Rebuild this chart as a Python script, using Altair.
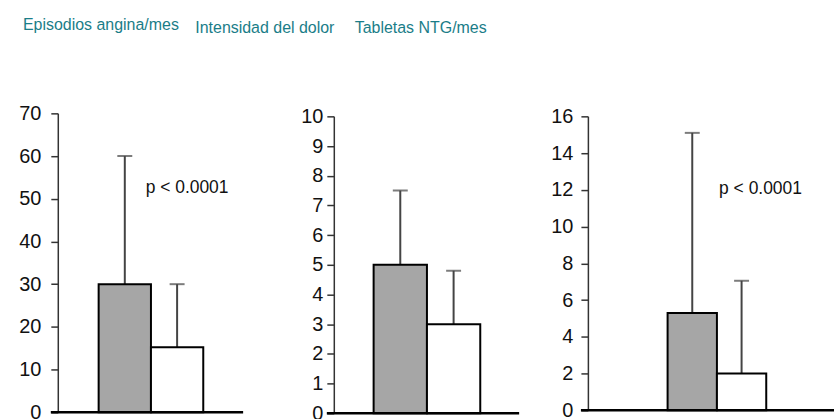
import altair as alt
import pandas as pd

groups = ["Basal", "Seguimiento"]
titles = ["Episodios angina/mes", "Intensidad del dolor", "Tabletas NTG/mes"]

mean_angina = [30, 15.2]
upper_angina = [60, 30]
mean_dolor = [5, 3]
upper_dolor = [7.5, 4.8]
mean_ntg = [5.3, 2]
upper_ntg = [15.1, 7.05]

ticks_angina = [0, 10, 20, 30, 40, 50, 60, 70]
ticks_dolor = [0, 1, 2, 3, 4, 5, 6, 7, 8, 9, 10]
ticks_ntg = [0, 2, 4, 6, 8, 10, 12, 14, 16]

p_label = "p < 0.0001"
p_y_angina = 51.3
p_y_ntg = 11.8

fills = ["#a6a6a6", "#ffffff"]
TITLE_COLOR = "#1a7d88"
TITLE_FONT = "Liberation Sans, Arial, sans-serif"
LABEL_FONT = "Liberation Sans, Arial, sans-serif"


def panel(title, means, uppers, ticks, width, height, yrange, po, align,
          rule_len, title_dx, label_pad, p_y=None, p_dx=0):
    df = pd.DataFrame({"grupo": groups, "media": means, "sup": uppers})
    xs = alt.Scale(domain=groups, paddingInner=0, paddingOuter=po, align=align)
    x = alt.X("grupo:N", sort=groups, scale=xs, axis=None)
    ys = alt.Scale(domain=[ticks[0], ticks[-1]], range=yrange, nice=False, zero=True)
    yaxis = alt.Axis(values=ticks, tickCount=40, format="d", grid=False, tickSize=7,
                     labelFontSize=20, labelFont=LABEL_FONT, labelColor="#111111",
                     labelOverlap=False, labelBound=False,
                     domainColor="#333333", tickColor="#333333",
                     domainWidth=1.5, tickWidth=1.5, labelPadding=label_pad,
                     title=None)
    base = alt.Chart(df)
    bars = base.mark_bar(stroke="black", strokeWidth=2).encode(
        x=x,
        y=alt.Y("media:Q", scale=ys, axis=yaxis),
        fill=alt.Color("grupo:N", scale=alt.Scale(domain=groups, range=fills), legend=None),
    )
    err = base.mark_rule(color="#444444", strokeWidth=2).encode(
        x=x, y="media:Q", y2="sup:Q"
    )
    cap = base.mark_tick(color="#444444", thickness=2, size=15).encode(
        x=x, y="sup:Q"
    )
    baseline = alt.Chart(pd.DataFrame({"cero": [0]})).mark_rule(
        color="black", strokeWidth=2.5
    ).encode(x=alt.value(-7), x2=alt.value(rule_len), y="cero:Q")
    layers = [err, cap, bars, baseline]
    if p_y is not None:
        txt = alt.Chart(pd.DataFrame({"g": [groups[1]], "py": [p_y], "t": [p_label]})).mark_text(
            align="center", baseline="alphabetic", fontSize=17.5, font=LABEL_FONT,
            color="#111111", dx=p_dx
        ).encode(x=alt.X("g:N", sort=groups, scale=xs, axis=None), y="py:Q", text="t:N")
        layers.append(txt)
    return alt.layer(*layers).properties(
        width=width, height=height,
        title=alt.TitleParams(text=title, anchor="start", frame="group", dx=title_dx,
                              offset=58, font=TITLE_FONT, fontSize=16,
                              fontWeight="normal", color=TITLE_COLOR,
                              baseline="alphabetic"),
    )


p1 = panel(titles[0], mean_angina, upper_angina, ticks_angina, 208, 300, [300, 0],
           0.981, 0.398, 186, -35, 10, p_y=p_y_angina, p_dx=10)
p2 = panel(titles[1], mean_dolor, upper_dolor, ticks_dolor, 186, 301, [301, 3],
           0.738, 0.506, 186, -139, 4)
p3 = panel(titles[2], mean_ntg, upper_ntg, ticks_ntg, 198, 298, [298, 3],
           1.0, 0.808, 247, -234, 8, p_y=p_y_ntg, p_dx=19)

chart = alt.hconcat(p1, p2, p3, spacing=69, bounds="flush").properties(
    padding={"left": 18, "top": 16, "right": 0, "bottom": 0}
).configure_view(stroke=None)

chart.save("out.html", embed_options={"renderer": "svg", "actions": False})
